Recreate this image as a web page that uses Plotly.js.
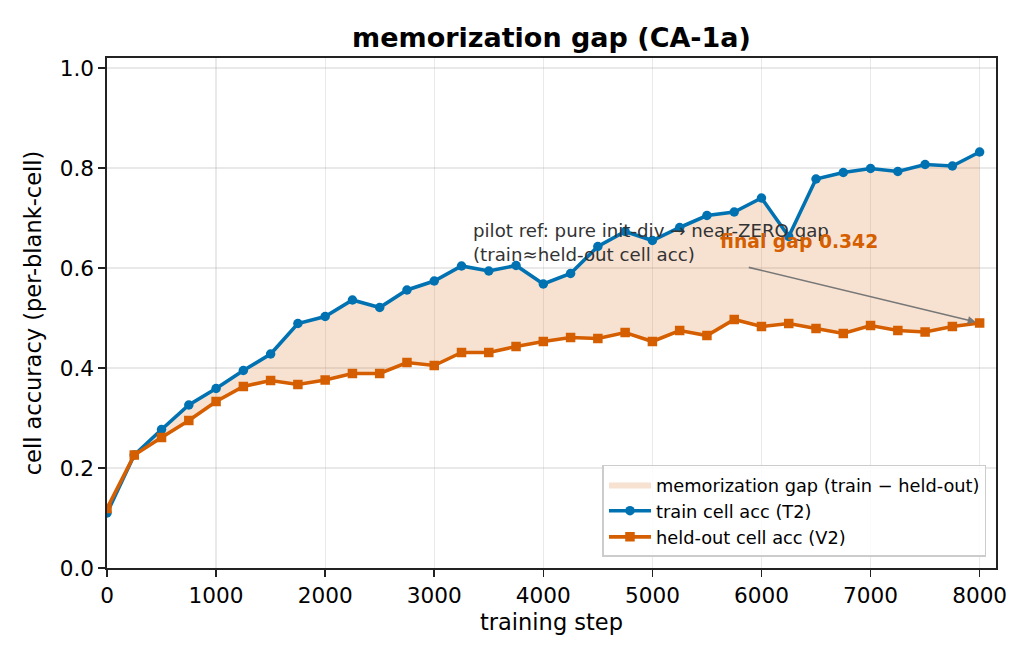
<!DOCTYPE html>
<html>
<head>
<meta charset="utf-8">
<script src="https://cdn.plot.ly/plotly-3.0.1.min.js"></script>
<style>
  html, body { margin: 0; padding: 0; background: #fff; }
  #chart { width: 1035px; height: 660px; }
</style>
</head>
<body>
<div id="chart"></div>
<script>
// Training steps at which cell accuracy was evaluated
const steps = [0, 250, 500, 750, 1000, 1250, 1500, 1750, 2000, 2250, 2500, 2750,
  3000, 3250, 3500, 3750, 4000, 4250, 4500, 4750, 5000, 5250, 5500, 5750,
  6000, 6250, 6500, 6750, 7000, 7250, 7500, 7750, 8000];

// Train-set cell accuracy (T2)
const trainAcc = [0.110, 0.226, 0.277, 0.326, 0.359, 0.395, 0.428, 0.489, 0.503,
  0.536, 0.521, 0.556, 0.574, 0.604, 0.594, 0.605, 0.568, 0.589, 0.643, 0.673,
  0.655, 0.681, 0.705, 0.712, 0.740, 0.663, 0.778, 0.791, 0.799, 0.793, 0.807,
  0.804, 0.832];

// Held-out cell accuracy (V2)
const heldAcc = [0.119, 0.226, 0.261, 0.295, 0.333, 0.363, 0.375, 0.367, 0.376,
  0.389, 0.389, 0.411, 0.405, 0.431, 0.431, 0.443, 0.453, 0.461, 0.459, 0.471,
  0.453, 0.475, 0.465, 0.497, 0.483, 0.489, 0.479, 0.469, 0.485, 0.475, 0.472,
  0.483, 0.490];

const seriesNames = {
  gap: 'memorization gap (train \u2212 held-out)',
  train: 'train cell acc (T2)',
  held: 'held-out cell acc (V2)'
};

const pilotNote = 'pilot ref: pure init-div \u2192 near-ZERO gap<br>(train\u2248held-out cell acc)';

const BLUE = '#0072B2';
const ORANGE = '#D55E00';
const FONT = 'DejaVu Sans, sans-serif';

const last = steps.length - 1;
const finalGap = trainAcc[last] - heldAcc[last];

const traces = [
  // lower edge of the shaded gap
  {
    x: steps, y: heldAcc, type: 'scatter', mode: 'lines',
    line: { width: 0, color: 'rgba(0,0,0,0)' },
    showlegend: false, hoverinfo: 'skip'
  },
  // shaded region between the two curves
  {
    x: steps, y: trainAcc, type: 'scatter', mode: 'lines',
    fill: 'tonexty', fillcolor: 'rgba(213,94,0,0.18)',
    line: { width: 0, color: 'rgba(213,94,0,0.25)' },
    name: seriesNames.gap, legendrank: 1, hoverinfo: 'skip'
  },
  {
    x: steps, y: trainAcc, type: 'scatter', mode: 'lines+markers',
    line: { color: BLUE, width: 3.6 },
    marker: { symbol: 'circle', size: 9.5, color: BLUE },
    name: seriesNames.train, legendrank: 2
  },
  {
    x: steps, y: heldAcc, type: 'scatter', mode: 'lines+markers',
    line: { color: ORANGE, width: 3.6 },
    marker: { symbol: 'square', size: 9.5, color: ORANGE },
    name: seriesNames.held, legendrank: 3
  }
];

const axisCommon = {
  showline: true, linecolor: '#222', linewidth: 1.6, mirror: true,
  ticks: 'outside', ticklen: 7, tickwidth: 1.6, tickcolor: '#222',
  showgrid: true, gridcolor: 'rgba(176,176,176,0.28)', gridwidth: 1.2,
  zeroline: false, tickfont: { size: 21.6, color: '#000' }
};

const layout = {
  width: 1035, height: 660,
  margin: { l: 107, r: 38.5, t: 58, b: 92 },
  paper_bgcolor: '#fff', plot_bgcolor: '#fff',
  font: { family: FONT, size: 21.6, color: '#000' },
  title: {
    text: 'memorization gap (CA-1a)',
    font: { family: FONT, size: 27, weight: 'bold', color: '#000' },
    x: 0.5, xref: 'paper', y: 1 - 38 / 660, yref: 'container', yanchor: 'middle'
  },
  xaxis: Object.assign({}, axisCommon, {
    range: [0, 8150], tick0: 0, dtick: 1000,
    title: { text: 'training step', font: { size: 22.5 }, standoff: 8 }
  }),
  yaxis: Object.assign({}, axisCommon, {
    range: [0, 1.02], tick0: 0, dtick: 0.2, tickformat: '.1f',
    title: { text: 'cell accuracy (per-blank-cell)', font: { size: 22.5 }, standoff: 12 }
  }),
  legend: {
    x: 0.9893, y: 0.0216, xanchor: 'right', yanchor: 'bottom',
    bgcolor: 'rgba(255,255,255,0.85)', bordercolor: '#cccccc', borderwidth: 1.5,
    font: { family: FONT, size: 17.8, color: '#000' },
    itemwidth: 42, traceorder: 'normal'
  },
  annotations: [
    {
      xref: 'x', yref: 'y', x: 3340, y: 0.652,
      xanchor: 'left', yanchor: 'middle', align: 'left',
      text: pilotNote, showarrow: false,
      font: { family: FONT, size: 18.2, color: '#333' }
    },
    {
      xref: 'x', yref: 'y', x: 5600, y: 0.654,
      xanchor: 'left', yanchor: 'middle',
      text: 'final gap ' + finalGap.toFixed(3), showarrow: false,
      font: { family: FONT, size: 18.75, color: ORANGE, weight: 'bold' }
    },
    {
      xref: 'x', yref: 'y', x: steps[last], y: heldAcc[last],
      axref: 'x', ayref: 'y', ax: 5870, ay: 0.602,
      text: ' ', showarrow: true,
      arrowhead: 2, arrowsize: 1, arrowwidth: 1.6, arrowcolor: '#777',
      standoff: 4, startstandoff: 0,
      font: { size: 1 }
    }
  ],
  hovermode: false
};

Plotly.newPlot('chart', traces, layout, { staticPlot: true, displayModeBar: false });
</script>
</body>
</html>
